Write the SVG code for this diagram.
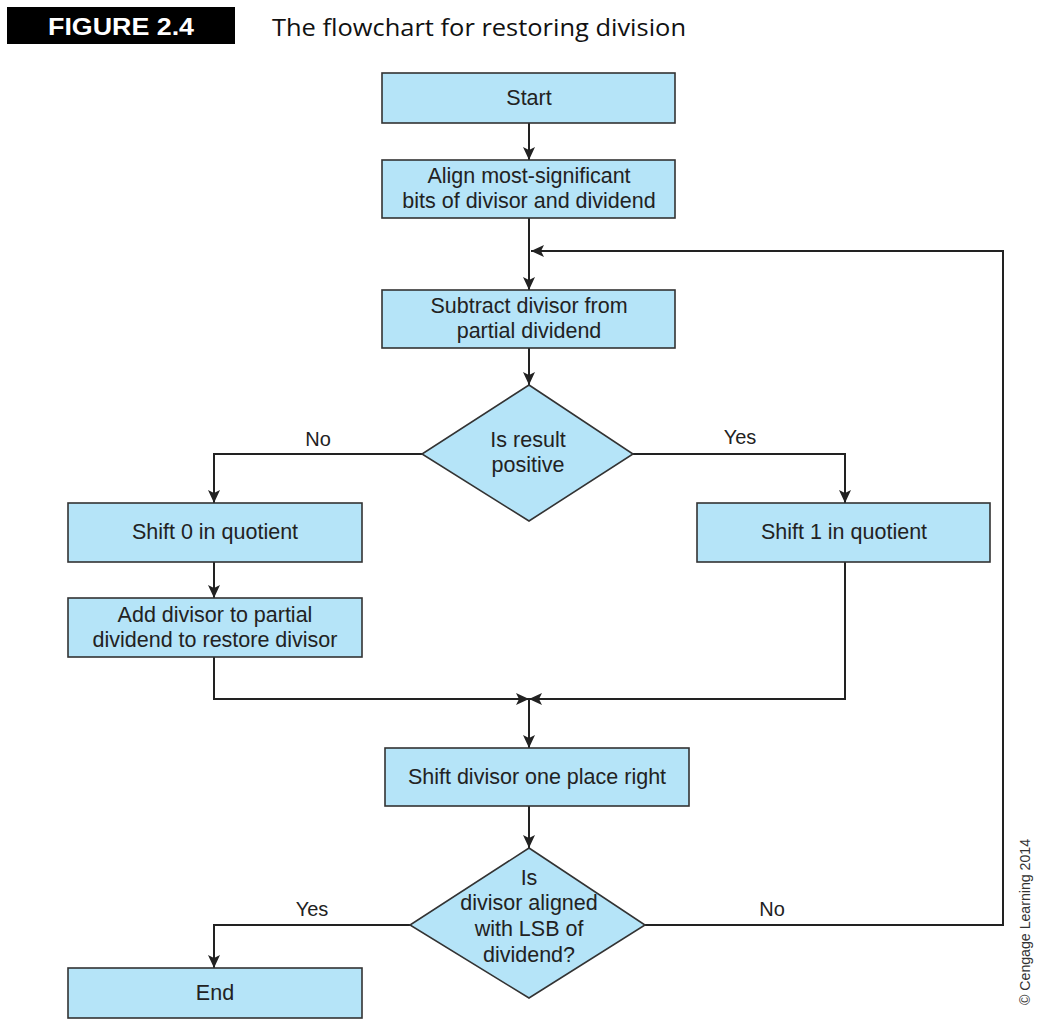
<svg xmlns="http://www.w3.org/2000/svg" width="1039" height="1027" viewBox="0 0 1039 1027">
<style>
.box{fill:#b5e4f8;stroke:#333;stroke-width:1.6}
.t{font-family:"Liberation Sans",Arial,sans-serif;font-size:21.5px;fill:#222;text-anchor:middle}
.c{fill:none;stroke:#222;stroke-width:2}
.lbl{font-family:"Liberation Sans",Arial,sans-serif;font-size:20px;fill:#222;text-anchor:middle}
</style>
<defs>
<marker id="ah" markerUnits="userSpaceOnUse" markerWidth="14" markerHeight="12" refX="13" refY="6" orient="auto">
<path d="M0,0 L13,6 L0,12 L3,6 z" fill="#222"/>
</marker>
</defs>
<rect width="1039" height="1027" fill="#fff"/>
<g id="header">
<rect x="7" y="7" width="228" height="37" fill="#000"/>
<text x="121" y="35" font-family="'Liberation Sans',Arial,sans-serif" font-weight="bold" font-size="24" fill="#fff" text-anchor="middle" textLength="146" lengthAdjust="spacingAndGlyphs">FIGURE 2.4</text>
<text x="272" y="36" font-family="'Open Sans','Liberation Sans',sans-serif" font-size="24" fill="#111" textLength="414" lengthAdjust="spacingAndGlyphs">The flowchart for restoring division</text>
</g>
<g id="connectors">
<line class="c" x1="529" y1="123" x2="529" y2="160" marker-end="url(#ah)"/>
<line class="c" x1="529" y1="218" x2="529" y2="290" marker-end="url(#ah)"/>
<line class="c" x1="529" y1="348" x2="529" y2="385" marker-end="url(#ah)"/>
<path class="c" d="M422 454 H214 V503" marker-end="url(#ah)"/>
<path class="c" d="M633 454 H845 V503" marker-end="url(#ah)"/>
<line class="c" x1="214" y1="562" x2="214" y2="598" marker-end="url(#ah)"/>
<path class="c" d="M214 657 V699 H529" marker-end="url(#ah)"/>
<path class="c" d="M845 562 V699 H529" marker-end="url(#ah)"/>
<line class="c" x1="529" y1="699" x2="529" y2="748" marker-end="url(#ah)"/>
<line class="c" x1="529" y1="806" x2="529" y2="848" marker-end="url(#ah)"/>
<path class="c" d="M410 925 H214 V968" marker-end="url(#ah)"/>
<path class="c" d="M645 925 H1003 V251 H531" marker-end="url(#ah)"/>
<text class="lbl" x="318" y="446">No</text>
<text class="lbl" x="740" y="444">Yes</text>
<text class="lbl" x="312" y="916">Yes</text>
<text class="lbl" x="772" y="916">No</text>
</g>
<g id="start">
<rect class="box" x="382" y="73" width="293" height="50"/>
<text class="t" x="529" y="105">Start</text>
</g>
<g id="align">
<rect class="box" x="382" y="160" width="293" height="58"/>
<text class="t" x="529" y="183">Align most-significant</text>
<text class="t" x="529" y="208">bits of divisor and dividend</text>
</g>
<g id="subtract">
<rect class="box" x="382" y="290" width="293" height="58"/>
<text class="t" x="529" y="313">Subtract divisor from</text>
<text class="t" x="529" y="338">partial dividend</text>
</g>
<g id="positive">
<polygon class="box" points="529,385 633,454 529,521 422,454"/>
<text class="t" x="528" y="447">Is result</text>
<text class="t" x="528" y="472">positive</text>
</g>
<g id="shift0">
<rect class="box" x="68" y="503" width="294" height="59"/>
<text class="t" x="215" y="539">Shift 0 in quotient</text>
</g>
<g id="add">
<rect class="box" x="68" y="598" width="294" height="59"/>
<text class="t" x="215" y="622">Add divisor to partial</text>
<text class="t" x="215" y="647">dividend to restore divisor</text>
</g>
<g id="shift1">
<rect class="box" x="697" y="503" width="293" height="59"/>
<text class="t" x="844" y="539">Shift 1 in quotient</text>
</g>
<g id="shiftdiv">
<rect class="box" x="385" y="748" width="304" height="58"/>
<text class="t" x="537" y="784">Shift divisor one place right</text>
</g>
<g id="aligned">
<polygon class="box" points="529,848 645,925 529,998 410,925"/>
<text class="t" x="529" y="885">Is</text>
<text class="t" x="529" y="910">divisor aligned</text>
<text class="t" x="529" y="936">with LSB of</text>
<text class="t" x="529" y="962">dividend?</text>
</g>
<g id="end">
<rect class="box" x="68" y="968" width="294" height="50"/>
<text class="t" x="215" y="1000">End</text>
</g>
<text transform="translate(1030,1005) rotate(-90)" font-family="'Liberation Sans',Arial,sans-serif" font-size="15" fill="#333" textLength="166" lengthAdjust="spacingAndGlyphs">© Cengage Learning 2014</text>
</svg>
